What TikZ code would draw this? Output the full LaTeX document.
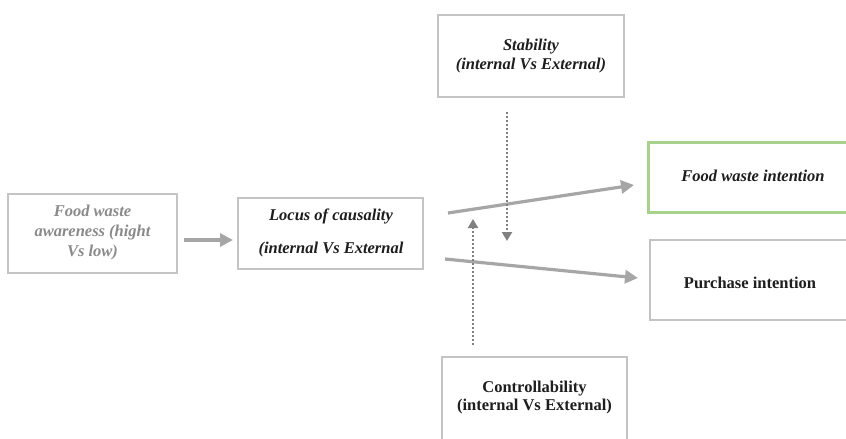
\documentclass[tikz,border=0pt]{standalone}
\usepackage{fontspec}
\setmainfont{Liberation Serif}
\usetikzlibrary{arrows.meta}
\definecolor{boxgray}{HTML}{C4C4C4}
\definecolor{arrgray}{HTML}{A6A6A6}
\definecolor{dotgray}{HTML}{808080}
\definecolor{txtgray}{HTML}{8A8A8A}
\definecolor{txtdark}{HTML}{1E1E1E}
\definecolor{boxgreen}{HTML}{A9D18E}
\tikzset{
  box/.style={draw=boxgray, line width=1.3pt, fill=white, inner sep=0pt, align=center, text=txtdark},
  greenbox/.style={box, draw=boxgreen, line width=3pt},
  lbl/.style={align=center, text=txtdark, font=\fontsize{16.5}{19}\selectfont\bfseries},
  mainarrow/.style={draw=arrgray, line width=3.2pt, -{Triangle[length=13pt,width=13pt]}},
  dotarrow/.style={draw=dotgray, line width=2pt, dash pattern=on 2pt off 2pt, -{Triangle[length=9pt,width=10pt]}}
}
\begin{document}
\begin{tikzpicture}[x=1pt,y=-1pt]
\useasboundingbox (0,0) rectangle (846,439);
\clip (0,0) rectangle (846,439);
\fill[white] (0,0) rectangle (846,439);
% boxes
\node[box, minimum width=169pt, minimum height=79pt] (A) at (92.5,233.5) {};
\node[box, minimum width=185pt, minimum height=71pt] (B) at (330.5,233.5) {};
\node[box, minimum width=186pt, minimum height=82pt] (S) at (531,56) {};
\node[box, minimum width=185pt, minimum height=100pt] (C) at (534.5,407) {};
\node[greenbox, minimum width=214pt, minimum height=70pt] (F) at (755,177) {};
\node[box, minimum width=212pt, minimum height=80pt] (P) at (756,280) {};
% texts
\node[lbl, text=txtgray, font=\fontsize{16.5}{20}\selectfont\bfseries\itshape] (At) at (92.5,233) {Food waste\\awareness (hight\\Vs low)};
\node[lbl, font=\fontsize{16.5}{33}\selectfont\bfseries\itshape] (Bt) at (331,233) {Locus of causality\\(internal Vs External};
\node[lbl, font=\fontsize{16.5}{19}\selectfont\bfseries\itshape] (St) at (531,56) {Stability\\(internal Vs External)};
\node[lbl, font=\fontsize{16.5}{18}\selectfont\bfseries] (Ct) at (534.5,398) {Controllability\\(internal Vs External)};
\node[lbl, font=\fontsize{16.5}{18}\selectfont\bfseries\itshape] (Ft) at (753,176) {Food waste intention};
\node[lbl] (Pt) at (750,283) {Purchase intention};
% connector end points
\coordinate (ab1) at (184,240);
\coordinate (ab2) at (233,240);
\coordinate (bf1) at (448,213);
\coordinate (bf2) at (634,185);
\coordinate (bp1) at (445,259);
\coordinate (bp2) at (638,278);
\coordinate (sd1) at (507,112);
\coordinate (sd2) at (507,241);
\coordinate (cu1) at (473,345);
\coordinate (cu2) at (473,219);
% arrows
\draw[mainarrow] (ab1) -- (ab2);
\draw[mainarrow] (bf1) -- (bf2);
\draw[mainarrow] (bp1) -- (bp2);
\draw[dotarrow] (sd1) -- (sd2);
\draw[dotarrow] (cu1) -- (cu2);
\end{tikzpicture}
\end{document}
